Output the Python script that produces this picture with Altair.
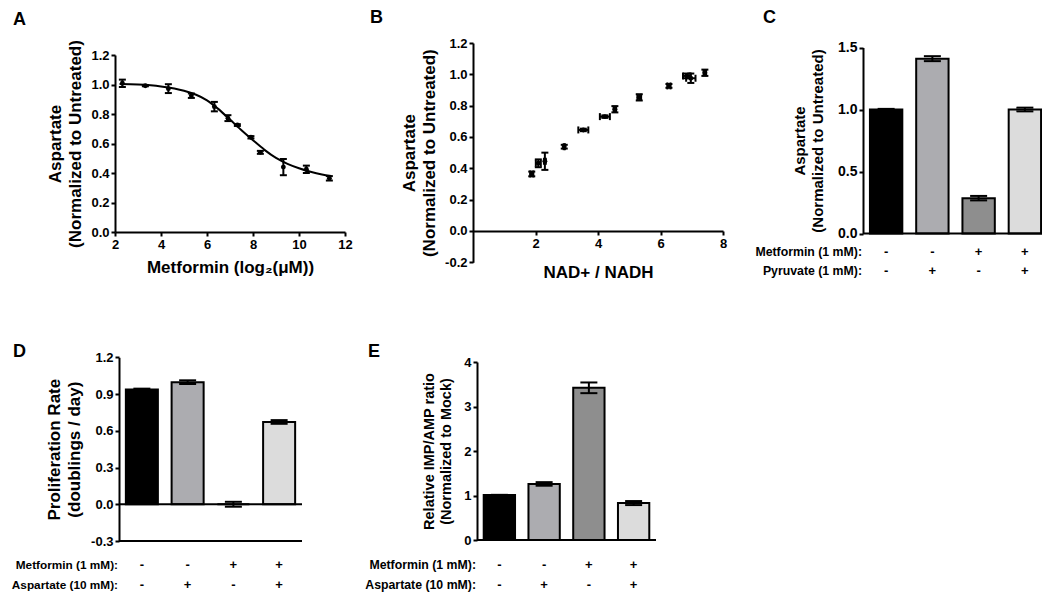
import altair as alt
import pandas as pd

FONT = "Liberation Sans"
W, H = 1034, 584


def P(v):
    """page pixel -> plot pixel (page has an 8px margin)"""
    return v - 8


# ---------------- data ----------------
A_X = [2.32, 3.32, 4.32, 5.32, 6.32, 6.91, 7.32, 7.91, 8.32, 9.32, 10.32, 11.32]
A_Y = [1.008, 0.992, 0.972, 0.924, 0.85, 0.772, 0.725, 0.642, 0.54, 0.44, 0.425, 0.364]
A_ERR = [0.025, 0.004, 0.03, 0.015, 0.032, 0.02, 0.006, 0.008, 0.01, 0.055, 0.025, 0.015]
A_CURVE_X = [2.2, 3.0, 4.0, 5.0, 5.5, 6.0, 6.5, 7.0, 7.5, 8.0, 8.5, 9.0, 9.5, 10.0, 10.5, 11.0, 11.4]
A_CURVE_Y = [1.003, 1.0, 0.987, 0.958, 0.932, 0.893, 0.833, 0.762, 0.69, 0.622, 0.557, 0.502,
             0.462, 0.432, 0.408, 0.39, 0.38]

B_X = [1.88, 2.09, 2.30, 2.92, 3.53, 4.22, 4.54, 5.32, 6.27, 6.84, 6.97, 7.42]
B_Y = [0.364, 0.432, 0.445, 0.538, 0.645, 0.73, 0.777, 0.853, 0.926, 0.99, 0.975, 1.01]
B_YERR = [0.015, 0.025, 0.055, 0.012, 0.008, 0.008, 0.02, 0.02, 0.012, 0.015, 0.03, 0.02]
B_XERR = [0.05, 0.08, 0.03, 0.02, 0.16, 0.16, 0.04, 0.06, 0.05, 0.12, 0.15, 0.04]

CATS = ["1", "2", "3", "4"]
BAR_COLORS = ["#000000", "#acacb0", "#8e8e8e", "#dcdcdc"]
MET_SIGNS = ["-", "-", "+", "+"]
ADD_SIGNS = ["-", "+", "-", "+"]

C_VAL = [1.0, 1.41, 0.285, 1.0]
C_ERR = [0.005, 0.02, 0.018, 0.015]
C_ROWS = ["Metformin (1 mM):", "Pyruvate (1 mM):"]

D_VAL = [0.938, 0.997, 0.0, 0.672]
D_ERR = [0.006, 0.015, 0.02, 0.015]
D_ROWS = ["Metformin (1 mM):", "Aspartate (10 mM):"]

E_VAL = [1.01, 1.26, 3.42, 0.83]
E_ERR = [0.005, 0.04, 0.12, 0.045]
E_ROWS = ["Metformin (1 mM):", "Aspartate (10 mM):"]

LETTERS = ["A", "B", "C", "D", "E"]

MINUS_EXPR = "(datum.value < -0.0001 ? '-' : '') + format(abs(datum.value), '.1f')"

LAYERS = []
LATE = []   # horizontal axis lines of the bar panels, drawn last


def ax(**kw):
    base = dict(grid=False, domainColor="black", domainWidth=2, tickColor="black",
                tickWidth=2, tickSize=4, labelFont=FONT, labelFontWeight="bold",
                labelColor="black", labelPadding=2, labelFlush=False,
                titleFont=FONT, titleFontWeight="bold", titleColor="black")
    base.update(kw)
    return alt.Axis(**base)


def yerr_layers(df, xf, xs, ys, cap):
    stem = alt.Chart(df).mark_rule(color="black", strokeWidth=2).encode(
        x=alt.X(xf, scale=xs, axis=None),
        y=alt.Y("lo:Q", scale=ys, axis=None), y2="hi:Q")
    lo = alt.Chart(df).mark_tick(orient="horizontal", size=cap, thickness=2,
                                 color="black", opacity=1).encode(
        x=alt.X(xf, scale=xs, axis=None), y=alt.Y("lo:Q", scale=ys, axis=None))
    hi = alt.Chart(df).mark_tick(orient="horizontal", size=cap, thickness=2,
                                 color="black", opacity=1).encode(
        x=alt.X(xf, scale=xs, axis=None), y=alt.Y("hi:Q", scale=ys, axis=None))
    return [stem, lo, hi]


# ---------------- Panel A ----------------
a_df = pd.DataFrame({"x": A_X, "y": A_Y, "err": A_ERR})
a_df["lo"] = a_df["y"] - a_df["err"]
a_df["hi"] = a_df["y"] + a_df["err"]
curve_df = pd.DataFrame({"x": A_CURVE_X, "y": A_CURVE_Y})

xA = alt.Scale(domain=[2, 12], range=[P(115), P(345)], nice=False, zero=False)
yA = alt.Scale(domain=[0, 1.2], range=[P(232), P(55)], nice=False, zero=False)
axA_x = ax(orient="bottom", offset=P(232) - H, values=[2, 4, 6, 8, 10, 12], format="d",
           title="Metformin (log₂(μM))", titleFontSize=17, titlePadding=8, labelFontSize=13)
axA_y = ax(orient="left", offset=-P(115), values=[0, 0.2, 0.4, 0.6, 0.8, 1.0, 1.2],
           format=".1f", title=["Aspartate", "(Normalized to Untreated)"],
           titleFontSize=17, titleLineHeight=20, titlePadding=6, labelFontSize=13)

LAYERS.append(alt.Chart(curve_df).mark_line(color="black", strokeWidth=2,
                                            interpolate="monotone").encode(
    x=alt.X("x:Q", scale=xA, axis=axA_x), y=alt.Y("y:Q", scale=yA, axis=axA_y)))
LAYERS += yerr_layers(a_df, "x:Q", xA, yA, 7)
LAYERS.append(alt.Chart(a_df).mark_circle(size=24, color="black", opacity=1).encode(
    x=alt.X("x:Q", scale=xA, axis=None), y=alt.Y("y:Q", scale=yA, axis=None)))

# ---------------- Panel B ----------------
b_df = pd.DataFrame({"x": B_X, "y": B_Y, "ye": B_YERR, "xe": B_XERR})
b_df["lo"] = b_df["y"] - b_df["ye"]
b_df["hi"] = b_df["y"] + b_df["ye"]
b_df["xlo"] = b_df["x"] - b_df["xe"]
b_df["xhi"] = b_df["x"] + b_df["xe"]

xB = alt.Scale(domain=[0, 8], range=[P(473), P(723)], nice=False, zero=False)
yB = alt.Scale(domain=[-0.2, 1.2], range=[P(262.3), P(43)], nice=False, zero=False)
axB_x = ax(orient="bottom", offset=P(231) - H, values=[2, 4, 6, 8], format="d",
           title="NAD+ / NADH", titleFontSize=17, titlePadding=14, labelFontSize=13)
axB_y = ax(orient="left", offset=-P(473), values=[-0.2, 0, 0.2, 0.4, 0.6, 0.8, 1.0, 1.2],
           labelExpr=MINUS_EXPR, title=["Aspartate", "(Normalized to Untreated)"],
           titleFontSize=17, titleLineHeight=20, titlePadding=6, labelFontSize=13)

LAYERS.append(alt.Chart(b_df).mark_circle(size=24, color="black", opacity=1).encode(
    x=alt.X("x:Q", scale=xB, axis=axB_x), y=alt.Y("y:Q", scale=yB, axis=axB_y)))
LAYERS += yerr_layers(b_df, "x:Q", xB, yB, 7)
LAYERS.append(alt.Chart(b_df).mark_rule(color="black", strokeWidth=2).encode(
    x=alt.X("xlo:Q", scale=xB, axis=None), x2="xhi:Q", y=alt.Y("y:Q", scale=yB, axis=None)))
for col in ["xlo", "xhi"]:
    LAYERS.append(alt.Chart(b_df).mark_tick(orient="vertical", size=7, thickness=2,
                                            color="black", opacity=1).encode(
        x=alt.X(f"{col}:Q", scale=xB, axis=None), y=alt.Y("y:Q", scale=yB, axis=None)))


# ---------------- bar panels ----------------
def bar_panel(vals, errs, axis_x, x_end, y_dom, y_top, y_bot, yvals, ylab,
              ytitle, tsize, tlh, tpad, lsize, rows, row_ys, base_lines, cap=17,
              pin=0.3, row_font=12.3):
    df = pd.DataFrame({"cat": CATS, "v": vals, "e": errs, "col": BAR_COLORS,
                       "s1": MET_SIGNS, "s2": ADD_SIGNS})
    df["lo"] = df["v"] - df["e"]
    df["hi"] = df["v"] + df["e"]
    xs = alt.Scale(domain=CATS, range=[P(axis_x), P(x_end)], paddingInner=pin,
                   paddingOuter=pin / 2)
    ys = alt.Scale(domain=y_dom, range=[P(y_bot), P(y_top)], nice=False, zero=False)
    # companion scales for the horizontal axis lines: same pixel mapping, with the
    # domain reaching one pixel below the axis bottom
    upp = (y_dom[1] - y_dom[0]) / (y_bot - y_top)
    ys_ext = alt.Scale(domain=[y_dom[0] - upp, y_dom[1]], range=[P(y_bot) + 1, P(y_top)],
                       nice=False, zero=False)
    xspan = alt.Scale(domain=[0, 1], range=[P(axis_x), P(x_end)], nice=False, zero=False)
    axy = ax(orient="left", offset=-P(axis_x), values=yvals, labelExpr=ylab, title=ytitle,
             titleFontSize=tsize, titleLineHeight=tlh, titlePadding=tpad,
             labelFontSize=lsize)
    out = [alt.Chart(df).mark_bar(stroke="black", strokeWidth=2).encode(
        x=alt.X("cat:N", scale=xs, axis=None),
        y=alt.Y("v:Q", scale=ys, axis=axy),
        y2=alt.datum(0),
        fill=alt.Fill("col:N", scale=None))]
    out += yerr_layers(df, "cat:N", xs, ys, cap)
    for col, ry in zip(["s1", "s2"], row_ys):
        out.append(alt.Chart(df).mark_text(font=FONT, fontWeight="bold", fontSize=13,
                                           color="black", baseline="middle").encode(
            x=alt.X("cat:N", scale=xs, axis=None), y=alt.value(P(ry)), text=f"{col}:N"))
    for lab, ry in zip(rows, row_ys):
        out.append(alt.Chart(pd.DataFrame({"t": [lab]})).mark_text(
            font=FONT, fontWeight="bold", fontSize=row_font, color="black", align="right",
            baseline="middle").encode(x=alt.value(P(axis_x) - 1), y=alt.value(P(ry)),
                                      text="t:N"))
    line_df = pd.DataFrame({"x0": [0.0] * len(base_lines), "x1": [1.0] * len(base_lines),
                            "b": base_lines})
    LATE.append(alt.Chart(line_df).mark_rule(color="black", strokeWidth=2).encode(
        x=alt.X("x0:Q", scale=xspan, axis=None), x2="x1:Q",
        y=alt.Y("b:Q", scale=ys_ext, axis=None)))
    return out


LAYERS += bar_panel(C_VAL, C_ERR, 863, 1048, [0, 1.5], 47.5, 233.5,
                    [0, 0.5, 1.0, 1.5], "format(datum.value, '.1f')",
                    ["Aspartate", "(Normalized to Untreated)"], 15, 18, 12, 14, C_ROWS,
                    [252, 271], [0.0])
LAYERS += bar_panel(D_VAL, D_ERR, 119, 302, [-0.3, 1.2], 357.3, 541,
                    [-0.3, 0, 0.3, 0.6, 0.9, 1.2], MINUS_EXPR,
                    ["Proliferation Rate", "(doublings / day)"], 17, 20, 7, 13, D_ROWS,
                    [565, 585], [0.0, -0.3], row_font=11.8)
LAYERS += bar_panel(E_VAL, E_ERR, 477, 656, [0, 4], 362, 540, [0, 1, 2, 3, 4],
                    "format(datum.value, 'd')",
                    ["Relative IMP/AMP ratio", "(Normalized to Mock)"], 14.5, 17, 10, 13,
                    E_ROWS, [565, 585], [0.0])
LAYERS += LATE

# ---------------- panel letters ----------------
LETTER_POS = [(13, 24.5), (370, 23), (763, 23), (13, 357), (368, 357)]
for t, (px, py) in zip(LETTERS, LETTER_POS):
    LAYERS.append(alt.Chart(pd.DataFrame({"t": [t]})).mark_text(
        font=FONT, fontWeight="bold", fontSize=18, color="black", align="left",
        baseline="alphabetic").encode(x=alt.value(P(px)), y=alt.value(P(py)), text="t:N"))

chart = alt.layer(*LAYERS).resolve_scale(
    x="independent", y="independent"
).properties(
    width=W, height=H, padding=0, autosize=alt.AutoSizeParams(type="none")
).configure_view(strokeWidth=0)

chart.save("out.html", embed_options={"renderer": "svg", "actions": False})
